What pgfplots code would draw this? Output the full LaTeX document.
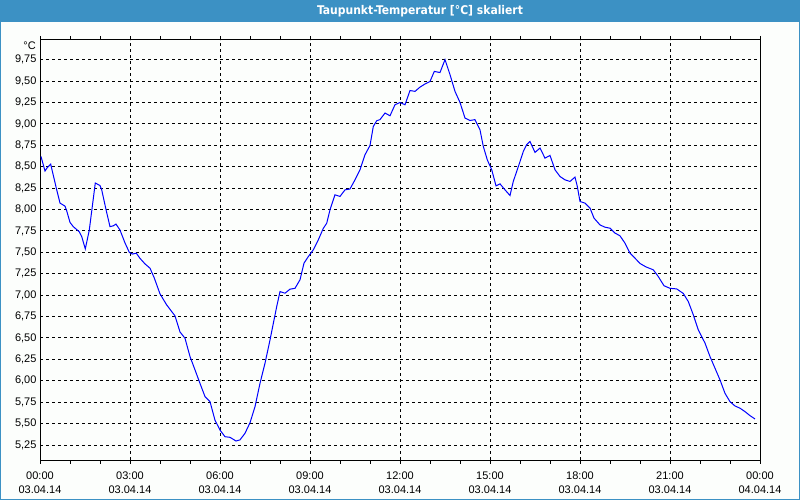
\documentclass[border=0pt]{standalone}
\usepackage{pgfplots}
\pgfplotsset{compat=1.18}
\usepackage{fontspec}
\setmainfont{Liberation Sans}
\newfontfamily\titlefont{DejaVu Sans Condensed}
\definecolor{bgc}{RGB}{252,254,252}
\definecolor{titleblue}{RGB}{60,145,196}
\begin{document}
\begin{tikzpicture}
\fill[bgc] (0bp,0bp) rectangle (800bp,500bp);
\fill[titleblue] (0bp,478bp) rectangle (800bp,500bp);
\draw[titleblue, line width=1bp] (0.5bp,0.5bp) rectangle (799.5bp,499.5bp);
\node[text=white, font=\titlefont\bfseries\fontsize{12bp}{14bp}\selectfont, inner sep=0] at (420bp,489bp) {Taupunkt-Temperatur [°C] skaliert};
\begin{axis}[
  at={(40bp,40bp)}, anchor=south west,
  width=720bp, height=420bp, scale only axis,
  xmin=0, xmax=24, ymin=5.075, ymax=9.98,
  axis line style={black, line width=1bp},
  xtick={0,3,...,24},
  minor xtick={1,2,4,5,7,8,10,11,13,14,16,17,19,20,22,23},
  xticklabels={{00:00\\03.04.14},{03:00\\03.04.14},{06:00\\03.04.14},{09:00\\03.04.14},{12:00\\03.04.14},{15:00\\03.04.14},{18:00\\03.04.14},{21:00\\03.04.14},{00:00\\04.04.14}},
  xticklabel style={align=center, font=\fontsize{11bp}{14.3bp}\selectfont, yshift=-4bp},
  ytick={5.25,5.5,5.75,6,6.25,6.5,6.75,7,7.25,7.5,7.75,8,8.25,8.5,8.75,9,9.25,9.5,9.75},
  yticklabel style={font=\fontsize{11bp}{14.3bp}\selectfont, /pgf/number format/.cd, fixed, fixed zerofill, precision=2, use comma, assume math mode=true},
  xtick align=outside,
  x tick style={black, line width=1bp},
  major tick length=4bp, minor tick length=4bp,
  y tick style={draw=none},
  xmajorgrids=true, ymajorgrids=true,
  major grid style={black, line width=1bp, dash pattern=on 3bp off 3bp},
  clip=true,
]
\addplot[blue, line width=1bp] coordinates {
(0.033,8.62)(0.167,8.45)(0.243,8.49)(0.357,8.53)(0.423,8.43)(0.557,8.23)(0.667,8.075)(0.833,8.04)(0.89,7.985)(1.0,7.85)
(1.11,7.80)(1.31,7.74)(1.39,7.685)(1.51,7.54)(1.643,7.76)(1.743,8.035)(1.843,8.31)(2.0,8.28)(2.057,8.23)(2.2,8.00)
(2.333,7.80)(2.443,7.81)(2.533,7.83)(2.667,7.76)(2.833,7.61)(2.977,7.50)(3.077,7.48)(3.21,7.49)(3.333,7.43)(3.5,7.365)
(3.667,7.315)(3.81,7.20)(4.0,7.015)(4.223,6.886)(4.5,6.758)(4.667,6.57)(4.833,6.497)(5.0,6.283)(5.167,6.127)(5.333,5.97)
(5.5,5.815)(5.667,5.756)(5.833,5.54)(6.0,5.425)(6.167,5.347)(6.333,5.34)(6.533,5.297)(6.667,5.31)(6.833,5.387)(7.0,5.51)
(7.167,5.698)(7.333,5.97)(7.5,6.205)(7.667,6.477)(7.777,6.67)(7.89,6.866)(8.0,7.042)(8.167,7.023)(8.333,7.07)(8.5,7.08)
(8.667,7.18)(8.8,7.374)(8.943,7.45)(9.11,7.53)(9.277,7.646)(9.443,7.78)(9.557,7.84)(9.667,7.997)(9.833,8.172)(10.0,8.153)
(10.167,8.23)(10.333,8.24)(10.5,8.347)(10.667,8.464)(10.833,8.64)(11.0,8.748)(11.11,8.97)(11.223,9.037)(11.333,9.05)(11.5,9.127)
(11.667,9.095)(11.833,9.224)(12.0,9.25)(12.167,9.224)(12.333,9.39)(12.5,9.38)(12.667,9.43)(12.833,9.466)(13.0,9.496)(13.143,9.613)
(13.333,9.60)(13.5,9.75)(13.667,9.575)(13.833,9.38)(14.0,9.25)(14.167,9.068)(14.333,9.04)(14.5,9.05)(14.667,8.93)(14.777,8.737)
(14.91,8.58)(15.057,8.465)(15.2,8.277)(15.333,8.30)(15.5,8.23)(15.667,8.164)(15.777,8.33)(15.89,8.445)(16.0,8.56)(16.11,8.678)
(16.223,8.757)(16.333,8.795)(16.5,8.667)(16.667,8.718)(16.833,8.60)(17.0,8.632)(17.167,8.464)(17.333,8.386)(17.5,8.347)(17.667,8.328)
(17.833,8.379)(17.91,8.27)(18.0,8.094)(18.167,8.075)(18.333,8.017)(18.467,7.90)(18.667,7.82)(18.833,7.794)(19.0,7.782)(19.167,7.725)
(19.333,7.693)(19.5,7.607)(19.667,7.49)(19.833,7.432)(20.0,7.37)(20.2,7.33)(20.443,7.296)(20.61,7.217)(20.8,7.11)(21.0,7.08)
(21.223,7.073)(21.443,7.02)(21.61,6.925)(21.777,6.77)(21.943,6.594)(22.167,6.44)(22.333,6.283)(22.5,6.147)(22.667,6.01)(22.833,5.854)
(23.0,5.756)(23.167,5.706)(23.333,5.68)(23.5,5.64)(23.667,5.593)(23.833,5.554)
};
\end{axis}
\node[anchor=east, inner sep=0, font=\fontsize{11bp}{13bp}\selectfont] at (36bp,454bp) {°C};
\end{tikzpicture}
\end{document}
